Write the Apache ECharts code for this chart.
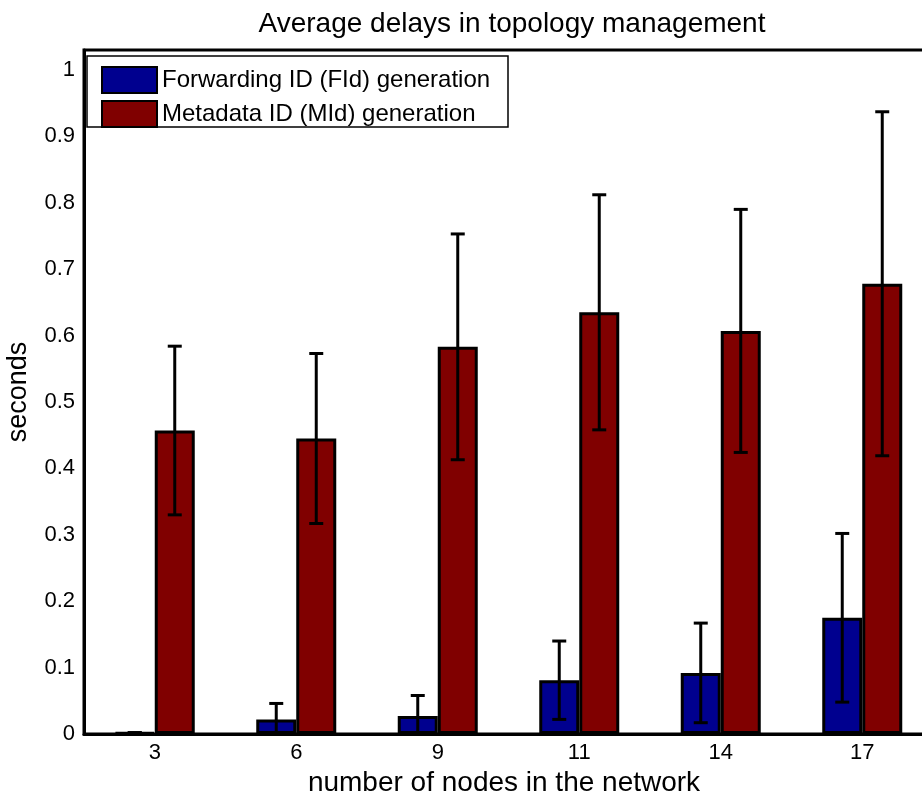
<!DOCTYPE html>
<html>
<head>
<meta charset="utf-8">
<script src="https://cdn.jsdelivr.net/npm/echarts@6/dist/echarts.min.js"></script>
<style>
  html, body { margin: 0; padding: 0; background: #fff; }
  #chart { width: 922px; height: 794px; }
</style>
</head>
<body>
<div id="chart"></div>
<script>
// Network sizes (number of nodes) on the x axis
const nodeCounts = ['3', '6', '9', '11', '14', '17'];

// Mean delay in seconds and the half-length of each error bar
const fidMean = [0.002, 0.022, 0.027, 0.081, 0.092, 0.175];
const fidErr  = [0.000, 0.024, 0.031, 0.059, 0.075, 0.127];
const midMean = [0.457, 0.445, 0.583, 0.635, 0.607, 0.678];
const midErr  = [0.127, 0.128, 0.170, 0.177, 0.183, 0.259];

const yTicks = [0, 0.1, 0.2, 0.3, 0.4, 0.5, 0.6, 0.7, 0.8, 0.9, 1];

const FONT = 'Liberation Sans, Arial, sans-serif';
const BAR_W = 40;

const chart = echarts.init(document.getElementById('chart'), null, { renderer: 'canvas' });

function errorSeries(mean, err, offset) {
  return {
    type: 'custom',
    clip: true,
    z: 5,
    data: mean.map((m, i) => [i, m - err[i], m + err[i]]),
    renderItem: function (params, api) {
      const i = api.value(0);
      const lo = api.coord([i, api.value(1)]);
      const hi = api.coord([i, api.value(2)]);
      const x = lo[0] + offset;
      const cap = 7;
      const style = { stroke: '#000', lineWidth: 3 };
      return {
        type: 'group',
        children: [
          { type: 'line', shape: { x1: x, y1: hi[1], x2: x, y2: lo[1] }, style },
          { type: 'line', shape: { x1: x - cap, y1: hi[1], x2: x + cap, y2: hi[1] }, style },
          { type: 'line', shape: { x1: x - cap, y1: lo[1], x2: x + cap, y2: lo[1] }, style }
        ]
      };
    }
  };
}

chart.setOption({
  animation: false,
  backgroundColor: '#fff',
  title: {
    text: 'Average delays in topology management',
    left: 507,
    textAlign: 'center',
    top: 5,
    textStyle: { fontFamily: FONT, fontSize: 28, fontWeight: 'normal', color: '#000' }
  },
  grid: {
    left: 84, top: 50, width: 849, height: 684,
    outerBoundsMode: 'none',
    containLabel: false,
    show: true, borderColor: '#000', borderWidth: 3, backgroundColor: 'transparent'
  },
  graphic: [{
    type: 'rect', z: 10,
    shape: { x: 87, y: 56, width: 421, height: 71 },
    style: { fill: '#fff', stroke: '#000', lineWidth: 1.5 }
  }],
  legend: {
    z: 20,
    left: 96, top: 61,
    orient: 'vertical',
    itemWidth: 55, itemHeight: 26, itemGap: 6,
    icon: 'rect',
    textStyle: { fontFamily: FONT, fontSize: 24, color: '#000' },
    data: ['Forwarding ID (FId) generation', 'Metadata ID (MId) generation']
  },
  xAxis: {
    type: 'category',
    data: nodeCounts,
    name: 'number of nodes in the network',
    nameLocation: 'middle',
    nameGap: 20,
    nameTextStyle: { fontFamily: FONT, fontSize: 28, color: '#000', padding: [0, 9, 0, 0] },
    axisLine: { lineStyle: { color: '#000', width: 3 } },
    axisTick: { show: false },
    axisLabel: { fontFamily: FONT, fontSize: 22, color: '#000', margin: 8 }
  },
  yAxis: {
    type: 'value',
    min: 0, max: 1.03, interval: 0.1,
    name: 'seconds',
    nameLocation: 'middle',
    nameGap: 52,
    nameTextStyle: { fontFamily: FONT, fontSize: 27, color: '#000' },
    splitLine: { show: false },
    axisLine: { show: true, lineStyle: { color: '#000', width: 3 } },
    axisTick: { show: false },
    axisLabel: {
      fontFamily: FONT, fontSize: 22, color: '#000', margin: 9,
      formatter: function (v) {
        const t = yTicks.find(k => Math.abs(k - v) < 1e-6);
        return t === undefined ? '' : String(t);
      }
    }
  },
  series: [
    {
      name: 'Forwarding ID (FId) generation',
      type: 'bar',
      barWidth: BAR_W, barGap: '0%',
      data: fidMean,
      itemStyle: { color: '#00008f', borderColor: '#000', borderWidth: 3 }
    },
    {
      name: 'Metadata ID (MId) generation',
      type: 'bar',
      barWidth: BAR_W, barGap: '0%',
      data: midMean,
      itemStyle: { color: '#800000', borderColor: '#000', borderWidth: 3 }
    },
    errorSeries(fidMean, fidErr, -BAR_W / 2),
    errorSeries(midMean, midErr, BAR_W / 2)
  ]
});
</script>
</body>
</html>
